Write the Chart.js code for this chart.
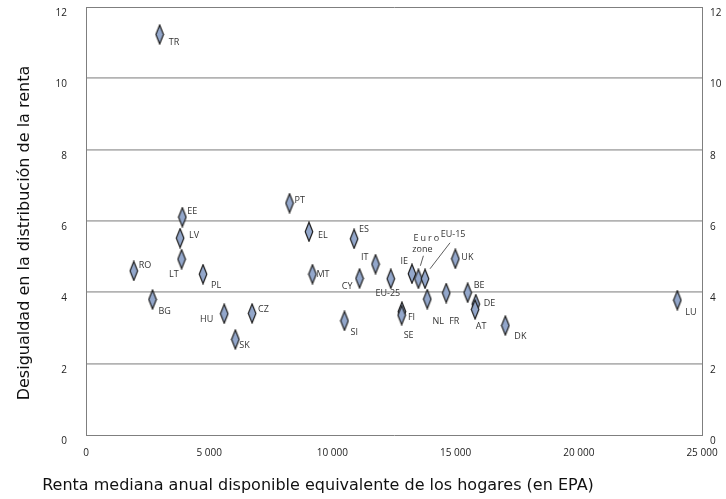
<!DOCTYPE html>
<html>
<head>
<meta charset="utf-8">
<script src="https://cdn.jsdelivr.net/npm/chart.js@4.4.1/dist/chart.umd.min.js"></script>
<style>
html, body { margin: 0; padding: 0; background: #fff; }
#wrap { width: 726px; height: 499px; }
</style>
</head>
<body>
<div id="wrap"><canvas id="chart"></canvas></div>
<script>
// Datos: renta mediana (EPA) y desigualdad (S80/S20)
var countries = ['TR', 'EE', 'LV', 'LT', 'RO', 'PL', 'BG', 'HU', 'CZ', 'SK',
    'PT', 'EL', 'MT', 'ES', 'IT', 'CY', 'EU-25', 'IE', 'Euro zone', 'EU-15',
    'NL', 'UK', 'FR', 'BE', 'SI', 'FI', 'SE', 'DE', 'AT', 'DK', 'LU'];
var incomeEPA = [2990, 3910, 3820, 3880, 1940, 4750, 2700, 5610, 6740, 6060,
    8260, 9050, 9190, 10880, 11750, 11100, 12370, 13230, 13490, 13760,
    13850, 14990, 14620, 15490, 10490, 12820, 12810, 15820, 15790, 17020, 24000];
var inequality = [11.23, 6.11, 5.52, 4.93, 4.60, 4.51, 3.80, 3.40, 3.41, 2.68,
    6.50, 5.70, 4.51, 5.50, 4.79, 4.39, 4.38, 4.52, 4.38, 4.38,
    3.81, 4.94, 3.98, 3.99, 3.20, 3.46, 3.36, 3.67, 3.52, 3.07, 3.78];
var xTicks = [0, 5000, 10000, 15000, 20000, 25000];
var yTicks = [0, 2, 4, 6, 8, 10, 12];

var xTitle = 'Renta mediana anual disponible equivalente de los hogares (en EPA)';
var yTitle = 'Desigualdad en la distribución de la renta';

// Posición de las etiquetas respecto al punto (dx, dy, alineación)
var labelPos = {
    'TR': [9, 8, 'left'], 'EE': [5, -6, 'left'], 'LV': [9, -3, 'left'],
    'LT': [-3, 15, 'right'], 'RO': [5, -5, 'left'], 'PL': [8, 11, 'left'],
    'BG': [6, 12, 'left'], 'HU': [-11, 6, 'right'], 'CZ': [6, -4, 'left'],
    'SK': [4, 6, 'left'], 'PT': [5, -3, 'left'], 'EL': [9, 4, 'left'],
    'MT': [4, 0, 'left'], 'ES': [5, -9, 'left'], 'IT': [-7, -7, 'right'],
    'CY': [-7, 8, 'right'], 'EU-25': [-3, 15, 'center'], 'IE': [-4, -12, 'right'],
    'NL': [11, 22, 'center'], 'UK': [6, -1, 'left'], 'FR': [8, 28, 'center'],
    'BE': [6, -7, 'left'], 'SI': [6, 12, 'left'], 'FI': [6, 6, 'left'],
    'SE': [7, 20, 'center'], 'DE': [8, -1, 'left'], 'AT': [6, 17, 'center'],
    'DK': [9, 11, 'left'], 'LU': [8, 12, 'left']
};

/**
 * Crea el marcador en forma de rombo
 */
function diamondMarker() {
    var c = document.createElement('canvas');
    c.width = 10;
    c.height = 21;
    var ctx = c.getContext('2d');
    ctx.beginPath();
    ctx.moveTo(5, 1);
    ctx.lineTo(8.8, 10.5);
    ctx.lineTo(5, 20);
    ctx.lineTo(1.2, 10.5);
    ctx.closePath();
    ctx.fillStyle = '#93a7cb';
    ctx.fill();
    ctx.lineWidth = 1.2;
    ctx.strokeStyle = '#1e1e1e';
    ctx.stroke();
    return c;
}

function formatThousands(v) {
    return String(v).replace(/\B(?=(\d{3})+(?!\d))/g, ' ');
}

// Quita el margen extra que Chart.js reserva para las etiquetas extremas
function noPadding(scale) {
    scale.paddingTop = 0;
    scale.paddingBottom = 0;
    scale.paddingLeft = 0;
    scale.paddingRight = 0;
}

// Dibuja etiquetas de países y títulos de ejes
var labelsPlugin = {
    id: 'labelsPlugin',
    afterDatasetsDraw: function(chart) {
        var ctx = chart.ctx;
        var meta = chart.getDatasetMeta(0);
        ctx.save();
        ctx.fillStyle = '#333';
        ctx.font = '9px "Open Sans"';
        ctx.textBaseline = 'middle';
        countries.forEach(function(name, i) {
            var p = meta.data[i];
            var pos = labelPos[name];
            if (pos) {
                ctx.textAlign = pos[2];
                ctx.fillText(name, p.x + pos[0], p.y + pos[1]);
            }
        });

        // Euro zone con línea guía
        var ez = meta.data[countries.indexOf('Euro zone')];
        ctx.textAlign = 'center';
        ctx.letterSpacing = '2px';
        ctx.fillText('Euro', ez.x + 9, ez.y - 40);
        ctx.letterSpacing = '0px';
        ctx.fillText('zone', ez.x + 4, ez.y - 29);
        ctx.strokeStyle = '#333';
        ctx.lineWidth = 0.8;
        ctx.beginPath();
        ctx.moveTo(ez.x + 2, ez.y - 13);
        ctx.lineTo(ez.x + 5, ez.y - 23);
        ctx.stroke();

        // EU-15 con línea guía
        var eu = meta.data[countries.indexOf('EU-15')];
        ctx.fillText('EU-15', eu.x + 28, eu.y - 44);
        ctx.beginPath();
        ctx.moveTo(eu.x + 5, eu.y - 10);
        ctx.lineTo(eu.x + 25, eu.y - 36);
        ctx.stroke();

        // Títulos de ejes
        ctx.fillStyle = '#111';
        ctx.font = '16px "DejaVu Sans"';
        ctx.textAlign = 'center';
        ctx.fillText(xTitle, 318, 486);
        ctx.translate(25, 233);
        ctx.rotate(-Math.PI / 2);
        ctx.fillText(yTitle, 0, 0);
        ctx.restore();
    }
};

var frameColor = '#7f7f7f';
var gridColor = '#b3b3b3';
var tickFont = { family: '"Open Sans"', size: 10 };

new Chart(document.getElementById('chart'), {
    type: 'scatter',
    data: {
        labels: countries,
        datasets: [{
            data: incomeEPA.map(function(v, i) { return { x: v, y: inequality[i] }; }),
            pointStyle: diamondMarker(),
            pointRadius: 5,
            pointHoverRadius: 5
        }]
    },
    options: {
        responsive: true,
        maintainAspectRatio: false,
        animation: false,
        layout: { padding: { top: 7, left: 0, right: 0, bottom: 0 } },
        plugins: {
            legend: { display: false },
            tooltip: { enabled: false }
        },
        scales: {
            x: {
                type: 'linear',
                min: 0,
                max: 25000,
                afterBuildTicks: function(scale) {
                    scale.ticks = xTicks.map(function(v) { return { value: v }; });
                },
                afterFit: function(scale) { scale.height = 64; noPadding(scale); },
                grid: { display: false, drawTicks: false },
                border: { display: true, color: frameColor, width: 1 },
                ticks: {
                    font: tickFont,
                    color: '#222',
                    padding: 12,
                    maxRotation: 0,
                    callback: function(v) { return formatThousands(v); }
                }
            },
            y: {
                position: 'left',
                min: 0,
                max: 12,
                afterBuildTicks: function(scale) {
                    scale.ticks = yTicks.map(function(v) { return { value: v }; });
                },
                afterFit: function(scale) { scale.width = 86; noPadding(scale); },
                grid: {
                    drawTicks: false,
                    color: function(c) {
                        if (c.tick.value === 0) return 'rgba(0,0,0,0)';
                        return c.tick.value === 12 ? frameColor : gridColor;
                    },
                    lineWidth: function(c) { return c.tick.value === 12 ? 1 : 1.7; }
                },
                border: { display: true, color: frameColor, width: 1 },
                ticks: { font: tickFont, color: '#222', padding: 19, labelOffset: 6 }
            },
            y2: {
                position: 'right',
                min: 0,
                max: 12,
                afterBuildTicks: function(scale) {
                    scale.ticks = yTicks.map(function(v) { return { value: v }; });
                },
                afterFit: function(scale) { scale.width = 24; noPadding(scale); },
                grid: { display: false, drawTicks: false },
                border: { display: true, color: frameColor, width: 1 },
                ticks: { font: tickFont, color: '#222', padding: 8, labelOffset: 6 }
            }
        }
    },
    plugins: [labelsPlugin]
});
</script>
</body>
</html>
